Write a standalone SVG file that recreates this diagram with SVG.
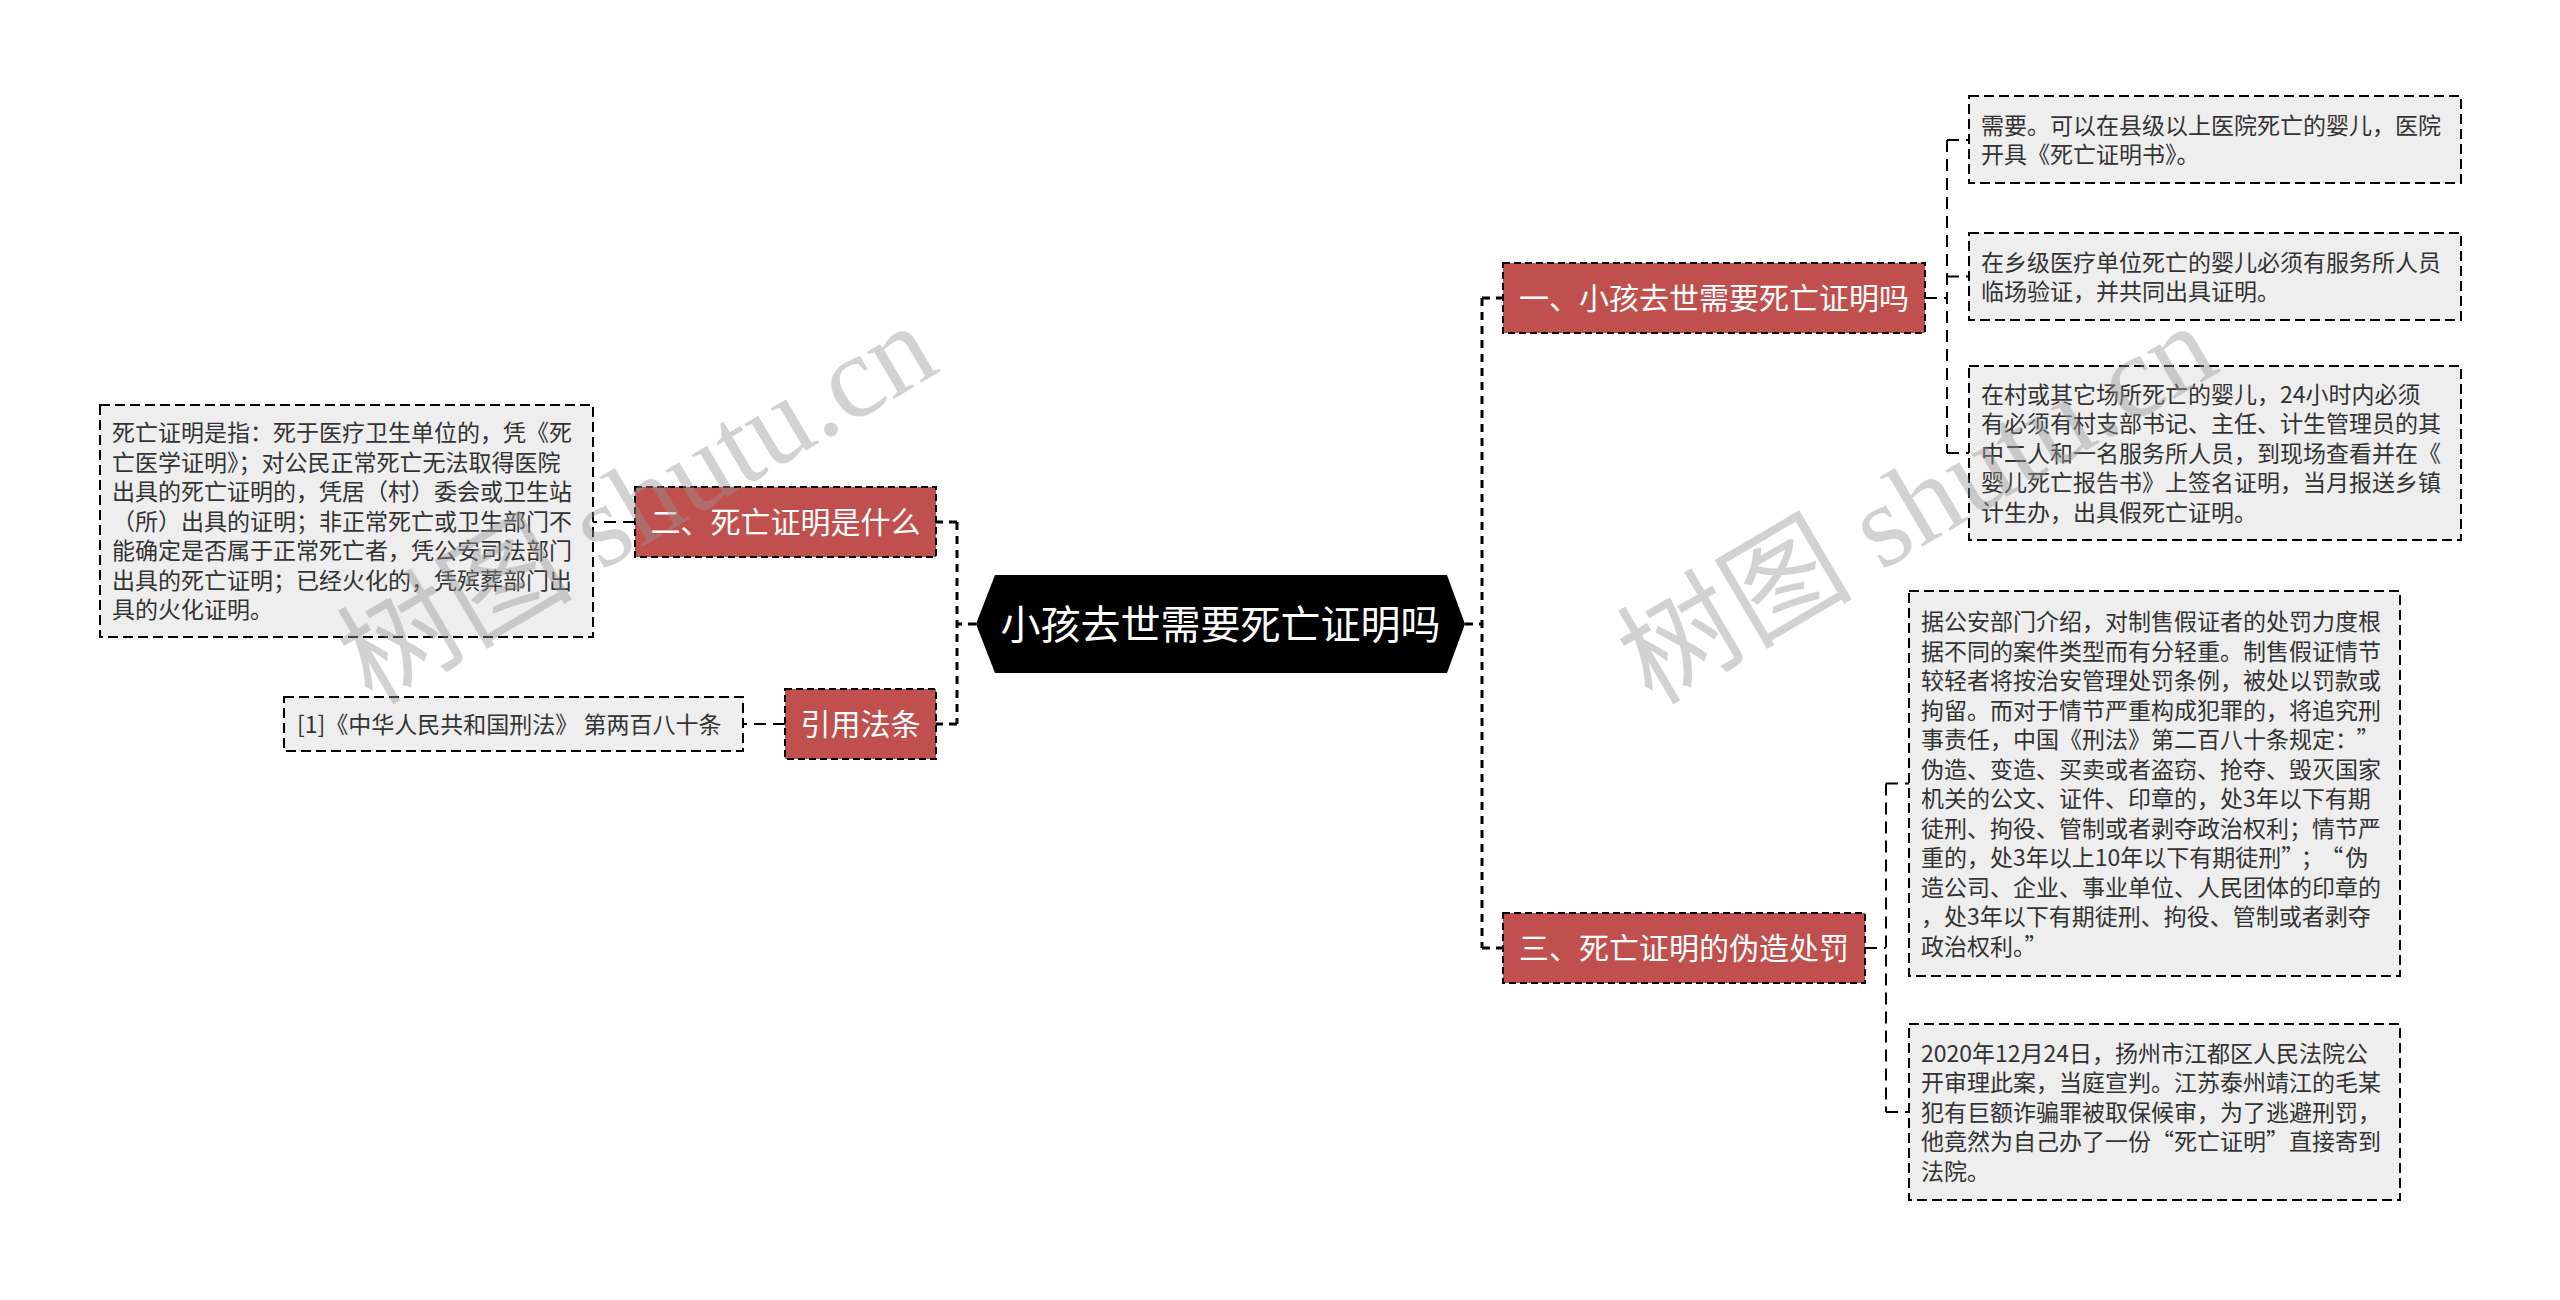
<svg xmlns="http://www.w3.org/2000/svg" width="2560" height="1300" viewBox="0 0 2560 1300">
<style>
.conn-main{fill:none;stroke:#000;stroke-width:3;stroke-dasharray:8 6}
.conn{fill:none;stroke:#000;stroke-width:2;stroke-dasharray:12 7}
.red{fill:#C0504D;stroke:#000;stroke-width:2;stroke-dasharray:7 4}
.box{fill:#EEEEEE;stroke:#000;stroke-width:2;stroke-dasharray:10 5}
.rt{font-family:"Noto Sans CJK SC","Liberation Sans",sans-serif;font-size:30px;fill:#fff;text-anchor:middle}
.bt{font-family:"Noto Sans CJK SC","Liberation Sans",sans-serif;font-size:23px;fill:#333}
.wm{font-family:"Liberation Serif","Noto Sans CJK SC",serif;font-size:118px;fill:#969696;opacity:0.42}
</style>
<rect width="2560" height="1300" fill="#fff"/>
<g id="connectors">
<path class="conn-main" d="M976 624H957M957 522V724M957 522H936M957 724H936"/>
<path class="conn-main" d="M1465 624H1482M1482 298V948M1482 298H1503M1482 948H1503"/>
<path class="conn" d="M635 522H593"/>
<path class="conn" d="M785 724H743"/>
<path class="conn" d="M1925 298H1947M1947 140V453M1947 140H1969M1947 276.5H1969M1947 453H1969"/>
<path class="conn" d="M1865 948H1886M1886 783.5V1112M1886 783.5H1909M1886 1112H1909"/>
</g>
<g id="root">
<polygon points="976,624 995,575 1447,575 1465,624 1447,673 995,673" fill="#000"/>
<text x="1220.5" y="639" style="font-family:'Noto Sans CJK SC','Liberation Sans',sans-serif;font-size:40px;fill:#fff;text-anchor:middle">小孩去世需要死亡证明吗</text>
</g>
<g id="node-2">
<rect class="red" x="635" y="487" width="301" height="70"/>
<text class="rt" x="785.5" y="533.4">二、死亡证明是什么</text>
</g>
<g id="node-2-text">
<rect class="box" x="100" y="405" width="493" height="232"/>
<text class="bt" x="112" y="441.2"><tspan x="112">死亡证明是指：死于医疗卫生单位的，凭《死</tspan><tspan x="112" dy="29.5">亡医学证明》；对公民正常死亡无法取得医院</tspan><tspan x="112" dy="29.5">出具的死亡证明的，凭居（村）委会或卫生站</tspan><tspan x="112" dy="29.5">（所）出具的证明；非正常死亡或卫生部门不</tspan><tspan x="112" dy="29.5">能确定是否属于正常死亡者，凭公安司法部门</tspan><tspan x="112" dy="29.5">出具的死亡证明；已经火化的，凭殡葬部门出</tspan><tspan x="112" dy="29.5">具的火化证明。</tspan></text>
</g>
<g id="node-law">
<rect class="red" x="785" y="689" width="151" height="70"/>
<text class="rt" x="860.5" y="735.4">引用法条</text>
</g>
<g id="node-law-text">
<rect class="box" x="284" y="697" width="459" height="54"/>
<text class="bt" x="297" y="732.7">[1]《中华人民共和国刑法》 第两百八十条</text>
</g>
<g id="node-1">
<rect class="red" x="1503" y="263" width="422" height="70"/>
<text class="rt" x="1714" y="309.4">一、小孩去世需要死亡证明吗</text>
</g>
<g id="node-1-a">
<rect class="box" x="1969" y="96" width="492" height="87"/>
<text class="bt" x="1981" y="133.5"><tspan x="1981">需要。可以在县级以上医院死亡的婴儿，医院</tspan><tspan x="1981" dy="29.5">开具《死亡证明书》。</tspan></text>
</g>
<g id="node-1-b">
<rect class="box" x="1969" y="233" width="492" height="87"/>
<text class="bt" x="1981" y="270.5"><tspan x="1981">在乡级医疗单位死亡的婴儿必须有服务所人员</tspan><tspan x="1981" dy="29.5">临场验证，并共同出具证明。</tspan></text>
</g>
<g id="node-1-c">
<rect class="box" x="1969" y="366" width="492" height="174"/>
<text class="bt" x="1981" y="402.7"><tspan x="1981">在村或其它场所死亡的婴儿，24小时内必须</tspan><tspan x="1981" dy="29.5">有必须有村支部书记、主任、计生管理员的其</tspan><tspan x="1981" dy="29.5">中二人和一名服务所人员，到现场查看并在《</tspan><tspan x="1981" dy="29.5">婴儿死亡报告书》上签名证明，当月报送乡镇</tspan><tspan x="1981" dy="29.5">计生办，出具假死亡证明。</tspan></text>
</g>
<g id="node-3">
<rect class="red" x="1503" y="913" width="362" height="70"/>
<text class="rt" x="1684" y="959.4">三、死亡证明的伪造处罚</text>
</g>
<g id="node-3-a">
<rect class="box" x="1909" y="591" width="491" height="385"/>
<text class="bt" x="1921" y="630"><tspan x="1921">据公安部门介绍，对制售假证者的处罚力度根</tspan><tspan x="1921" dy="29.5">据不同的案件类型而有分轻重。制售假证情节</tspan><tspan x="1921" dy="29.5">较轻者将按治安管理处罚条例，被处以罚款或</tspan><tspan x="1921" dy="29.5">拘留。而对于情节严重构成犯罪的，将追究刑</tspan><tspan x="1921" dy="29.5">事责任，中国《刑法》第二百八十条规定：<tspan dx="10">”</tspan></tspan><tspan x="1921" dy="29.5">伪造、变造、买卖或者盗窃、抢夺、毁灭国家</tspan><tspan x="1921" dy="29.5">机关的公文、证件、印章的，处3年以下有期</tspan><tspan x="1921" dy="29.5">徒刑、拘役、管制或者剥夺政治权利；情节严</tspan><tspan x="1921" dy="29.5">重的，处3年以上10年以下有期徒刑”<tspan dx="8">；</tspan><tspan dx="8">“</tspan><tspan dx="2">伪</tspan></tspan><tspan x="1921" dy="29.5">造公司、企业、事业单位、人民团体的印章的</tspan><tspan x="1921" dy="29.5">，处3年以下有期徒刑、拘役、管制或者剥夺</tspan><tspan x="1921" dy="29.5">政治权利。”</tspan></text>
</g>
<g id="node-3-b">
<rect class="box" x="1909" y="1024" width="491" height="176"/>
<text class="bt" x="1921" y="1061.7"><tspan x="1921">2020年12月24日，扬州市江都区人民法院公</tspan><tspan x="1921" dy="29.5">开审理此案，当庭宣判。江苏泰州靖江的毛某</tspan><tspan x="1921" dy="29.5">犯有巨额诈骗罪被取保候审，为了逃避刑罚，</tspan><tspan x="1921" dy="29.5">他竟然为自己办了一份“死亡证明”直接寄到</tspan><tspan x="1921" dy="29.5">法院。</tspan></text>
</g>
<g id="watermarks">
<text class="wm" x="372" y="706" transform="rotate(-30.5 372 706)">树图 shutu.cn</text>
<text class="wm" x="1652" y="706" transform="rotate(-30.5 1652 706)">树图 shutu.cn</text>
</g>
</svg>
